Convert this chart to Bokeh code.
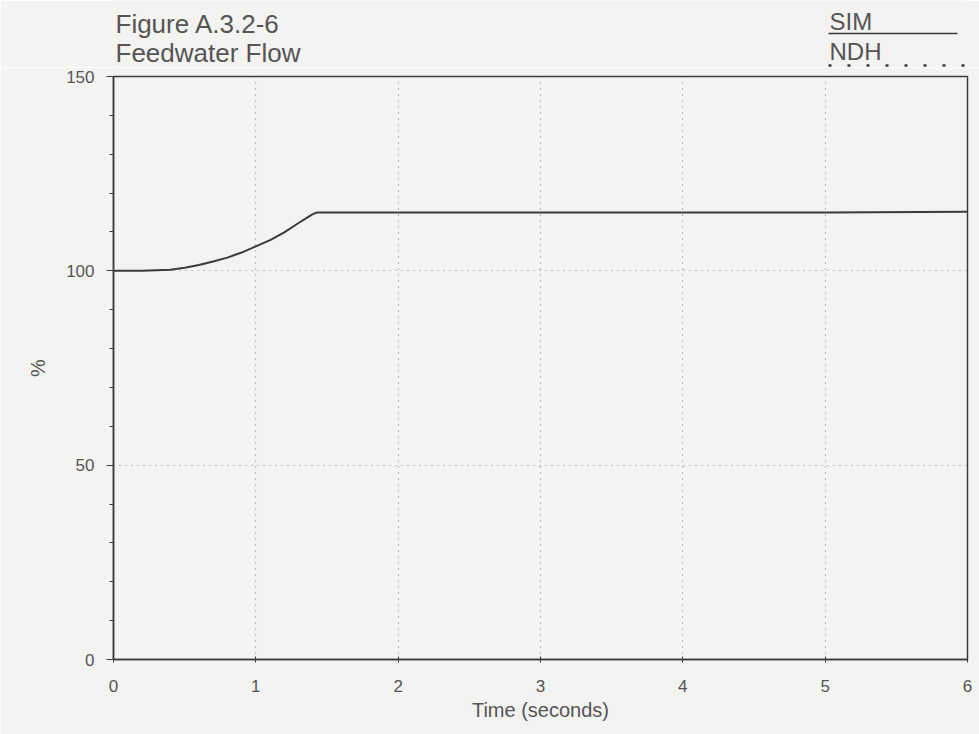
from bokeh.plotting import figure
from bokeh.layouts import column
from bokeh.models import Range1d, FixedTicker
from bokeh.core.properties import value
from bokeh.embed import file_html
from bokeh.resources import INLINE

# ---- data ----
time_s = [0, 0.2, 0.4, 0.5, 0.6, 0.7, 0.8, 0.9, 1.0, 1.1, 1.2, 1.3, 1.4, 1.43, 2, 3, 4, 5, 6]
sim_pct = [100, 100, 100.3, 100.8, 101.5, 102.4, 103.4, 104.7, 106.3, 107.9, 109.9, 112.3, 114.6, 115, 115, 115, 115, 115, 115.2]
x_ticks = [0, 1, 2, 3, 4, 5, 6]
y_ticks = [0, 50, 100, 150]
title_lines = ["Figure A.3.2-6", "Feedwater Flow"]
series_names = ["SIM", "NDH"]

FONT = "Liberation Sans"
BG = "#f3f3f1"
INK = "#3a3a3a"
TXT = "#555555"
W = 979
HEAD_H = 67
FL, FR = 113, 967   # frame left / right in page pixels (column aligns frames)

# ---- header strip (title + legend), page-pixel coordinates ----
h = figure(width=W, height=HEAD_H, output_backend="svg", toolbar_location=None,
           x_range=Range1d(FL, FR), y_range=Range1d(HEAD_H, 0),
           x_axis_location=None, y_axis_location=None,
           min_border_left=FL, min_border_right=W - FR, min_border_top=0, min_border_bottom=0)
h.background_fill_color = BG
h.border_fill_color = BG
h.outline_line_color = None
h.grid.visible = False
h.text(x=[115, 115], y=[23, 52], text=title_lines, text_font=value(FONT),
       text_font_size="26px", text_color=TXT, text_baseline="middle")
h.text(x=[829, 829], y=[21, 51], text=series_names, text_font=value(FONT),
       text_font_size="24px", text_color=TXT, text_baseline="middle")
h.line(x=[828, 957], y=[33, 33], line_color=INK, line_width=1.5)
h.line(x=[828, 966], y=[65, 65], line_color=INK, line_width=2.5, line_dash="3 16")

# ---- main plot ----
p = figure(width=W, height=734 - HEAD_H, output_backend="svg", toolbar_location=None,
           x_range=Range1d(0, 6), y_range=Range1d(0, 150),
           min_border_left=FL, min_border_right=W - FR, min_border_top=76 - HEAD_H,
           min_border_bottom=75)
p.background_fill_color = BG
p.border_fill_color = BG
p.outline_line_color = INK
p.outline_line_width = 1.5

p.line(time_s, sim_pct, line_color=INK, line_width=2)

p.xaxis.ticker = FixedTicker(ticks=x_ticks)
p.yaxis.ticker = FixedTicker(ticks=y_ticks, minor_ticks=list(range(0, 151, 10)))
for ax in (p.xaxis[0], p.yaxis[0]):
    ax.axis_line_color = INK
    ax.axis_line_width = 1.5
    ax.major_tick_line_color = INK
    ax.minor_tick_line_color = INK
    ax.major_label_text_font = FONT
    ax.major_label_text_font_size = "17px"
    ax.major_label_text_color = TXT
    ax.axis_label_text_font = FONT
    ax.axis_label_text_font_style = "normal"
    ax.axis_label_text_font_size = "20px"
    ax.axis_label_text_color = TXT
p.xaxis.major_tick_in = 3
p.xaxis.major_tick_out = 3
p.xaxis.minor_tick_out = 0
p.xaxis.minor_tick_in = 0
p.yaxis.major_tick_out = 7
p.yaxis.major_tick_in = 0
p.yaxis.minor_tick_out = 4
p.yaxis.minor_tick_in = 0
p.xaxis.major_label_standoff = 17
p.yaxis.major_label_standoff = 12
p.xaxis.axis_label = "Time (seconds)"
p.yaxis.axis_label = "%"
p.xaxis.axis_label_standoff = 4
p.yaxis.axis_label_standoff = 14

p.xgrid.ticker = FixedTicker(ticks=[1, 2, 3, 4, 5])
p.ygrid.ticker = FixedTicker(ticks=[50, 100])
for g in (p.xgrid[0], p.ygrid[0]):
    g.grid_line_color = "#8a8a8a"
    g.grid_line_dash = "1 5"
    g.grid_line_width = 1.2

layout = column(h, p, spacing=0)
open("out.html", "w").write(file_html(layout, INLINE))
